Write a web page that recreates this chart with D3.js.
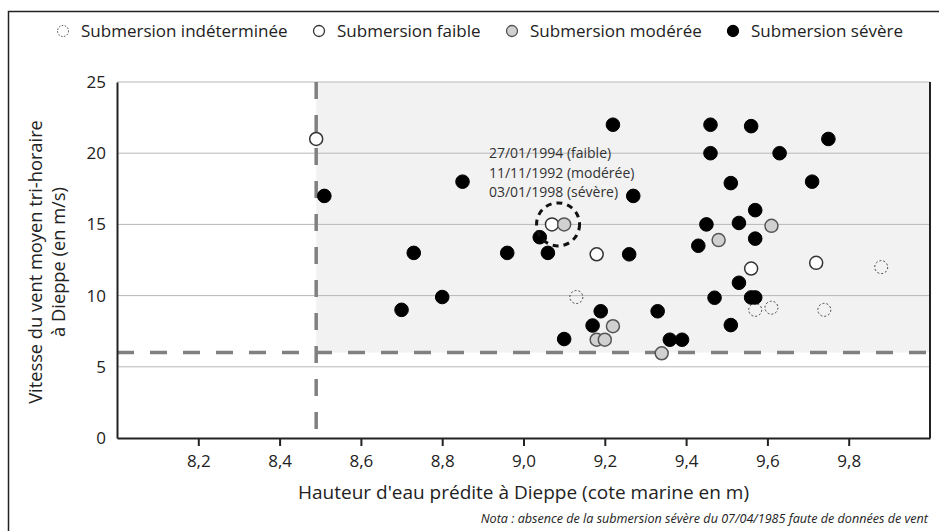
<!DOCTYPE html>
<html>
<head>
<meta charset="utf-8">
<script src="https://cdn.jsdelivr.net/npm/d3@7"></script>
<style>
  body { margin: 0; background: #fff; }
  svg { font-family: "Open Sans", sans-serif; }
</style>
</head>
<body>
<div id="chart"></div>
<script>
// Data: [hauteur d'eau (m), vitesse du vent (m/s)]
const categories = ["Submersion indéterminée", "Submersion faible", "Submersion modérée", "Submersion sévère"];

const indeterminee = [[9.13, 9.9], [9.57, 9.0], [9.61, 9.15], [9.74, 9.0], [9.88, 12]];

const faible = [[8.49, 21], [9.07, 15], [9.18, 12.9], [9.56, 11.9], [9.72, 12.3]];

const moderee = [[9.10, 15], [9.61, 14.9], [9.48, 13.9], [9.22, 7.85], [9.18, 6.9], [9.20, 6.9], [9.34, 5.95]];

const severe = [
  [8.51, 17], [8.85, 18], [8.73, 13], [8.96, 13], [9.04, 14.1], [9.06, 13],
  [9.22, 22], [9.46, 22], [9.56, 21.9], [9.75, 21], [9.46, 20], [9.63, 20],
  [9.51, 17.9], [9.71, 18], [9.27, 17], [9.57, 16], [9.45, 15], [9.53, 15.1],
  [9.57, 14], [9.43, 13.5], [9.26, 12.9], [8.70, 9.0], [8.80, 9.9], [9.10, 6.95],
  [9.19, 8.9], [9.17, 7.9], [9.33, 8.9], [9.36, 6.9], [9.39, 6.9], [9.47, 9.85],
  [9.53, 10.9], [9.56, 9.87], [9.57, 9.87], [9.51, 7.93]
];

const xTicks = [8.2, 8.4, 8.6, 8.8, 9.0, 9.2, 9.4, 9.6, 9.8];
const yTicks = [0, 5, 10, 15, 20, 25];

// Seuils (traits tiretés) et point annoté
const xThreshold = 8.49;
const yThreshold = 6;
const annotated = [9.085, 15];
const annotationLines = ["27/01/1994 (faible)", "11/11/1992 (modérée)", "03/01/1998 (sévère)"];

// Layout
const W = 939, H = 531;
const MARGIN = { LEFT: 117, TOP: 82, RIGHT: 9, BOTTOM: 93 };
const WIDTH = W - MARGIN.LEFT - MARGIN.RIGHT;
const HEIGHT = H - MARGIN.TOP - MARGIN.BOTTOM;

const root = d3.select("#chart").append("svg").attr("width", W).attr("height", H);

// outer frame (left + top, the rest runs off the picture)
root.append("path")
  .attr("d", `M8.5,${H} V11.5 H${W}`)
  .attr("fill", "none")
  .attr("stroke", "#222")
  .attr("stroke-width", 1.5);

const svg = root.append("g").attr("transform", `translate(${MARGIN.LEFT},${MARGIN.TOP})`);

const x = d3.scaleLinear().domain([8.0, 10.0]).range([0, WIDTH]);
const y = d3.scaleLinear().domain([0, 25]).range([HEIGHT, 0]);

const fmt = (d) => d3.format(".1f")(d).replace(".", ",");

// zone grisée (au-dessus des deux seuils)
svg.append("rect")
  .attr("x", x(xThreshold))
  .attr("y", y(25))
  .attr("width", x(10) - x(xThreshold))
  .attr("height", y(yThreshold) - y(25))
  .attr("fill", "#f2f2f2");

// horizontal grid lines
svg.append("g")
  .selectAll("line")
  .data(yTicks.filter((d) => d > 0))
  .join("line")
    .attr("x1", 0)
    .attr("x2", WIDTH)
    .attr("y1", (d) => y(d))
    .attr("y2", (d) => y(d))
    .attr("stroke", "#b8b8b8")
    .attr("stroke-width", 1);

// threshold dashed lines
svg.append("line")
  .attr("x1", x(xThreshold)).attr("x2", x(xThreshold))
  .attr("y1", y(25)).attr("y2", y(0))
  .attr("stroke", "#808080")
  .attr("stroke-width", 3.5)
  .attr("stroke-dasharray", "17,16");

svg.append("line")
  .attr("x1", 0).attr("x2", WIDTH)
  .attr("y1", y(yThreshold)).attr("y2", y(yThreshold))
  .attr("stroke", "#808080")
  .attr("stroke-width", 3.5)
  .attr("stroke-dasharray", "17,16");

// point styles for each category
const styles = [
  { fill: "none", stroke: "#444", width: 1, dash: "2,2", r: 6.5 },
  { fill: "#fff", stroke: "#333", width: 1.5, dash: null, r: 6.5 },
  { fill: "#d0d0d0", stroke: "#555", width: 1.5, dash: null, r: 6.5 },
  { fill: "#000", stroke: "#000", width: 1, dash: null, r: 6.8 }
];
const series = [indeterminee, faible, moderee, severe];

series.forEach((data, i) => {
  const s = styles[i];
  svg.append("g")
    .selectAll("circle")
    .data(data)
    .join("circle")
      .attr("cx", (d) => x(d[0]))
      .attr("cy", (d) => y(d[1]))
      .attr("r", s.r)
      .attr("fill", s.fill)
      .attr("stroke", s.stroke)
      .attr("stroke-width", s.width)
      .attr("stroke-dasharray", s.dash);
});

// annotation circle + text
svg.append("circle")
  .attr("cx", x(annotated[0]))
  .attr("cy", y(annotated[1]))
  .attr("r", 21.5)
  .attr("fill", "none")
  .attr("stroke", "#111")
  .attr("stroke-width", 3)
  .attr("stroke-dasharray", "6,5");

svg.append("text")
  .attr("x", x(8.915))
  .attr("y", y(annotated[1]) - 66)
  .attr("font-size", 14)
  .attr("fill", "#333")
  .selectAll("tspan")
  .data(annotationLines)
  .join("tspan")
    .attr("x", x(8.915))
    .attr("dy", (d, i) => (i === 0 ? 0 : 19.5))
    .text((d) => d);

// Axes
const xAxisCall = d3.axisBottom(x).tickValues(xTicks).tickFormat(fmt).tickSize(8).tickSizeOuter(0);
const xAxisGroup = svg.append("g").attr("transform", `translate(0,${HEIGHT})`).call(xAxisCall);
xAxisGroup.select(".domain").attr("stroke", "#222").attr("stroke-width", 2);
xAxisGroup.selectAll(".tick line").attr("stroke", "#222").attr("stroke-width", 2);
xAxisGroup.selectAll(".tick text").attr("font-size", 17).attr("fill", "#222").attr("dy", "1.05em")
  .attr("font-family", "Open Sans, sans-serif");

const yAxisCall = d3.axisLeft(y).tickValues(yTicks).tickSize(0).tickPadding(11);
const yAxisGroup = svg.append("g").call(yAxisCall);
yAxisGroup.select(".domain").attr("stroke", "#222").attr("stroke-width", 2);
yAxisGroup.selectAll(".tick text").attr("font-size", 17).attr("fill", "#222")
  .attr("font-family", "Open Sans, sans-serif");

// right border of the plot
svg.append("line")
  .attr("x1", WIDTH).attr("x2", WIDTH)
  .attr("y1", y(25)).attr("y2", y(0))
  .attr("stroke", "#222")
  .attr("stroke-width", 2);

// axis labels
svg.append("text")
  .attr("x", WIDTH / 2)
  .attr("y", HEIGHT + 61)
  .attr("text-anchor", "middle")
  .attr("font-size", 19)
  .attr("fill", "#222")
  .text("Hauteur d'eau prédite à Dieppe (cote marine en m)");

const yLabel = svg.append("text")
  .attr("transform", `translate(${-MARGIN.LEFT + 36},${HEIGHT / 2 + 2}) rotate(-90)`)
  .attr("text-anchor", "middle")
  .attr("font-size", 18.3)
  .attr("fill", "#222");
yLabel.append("tspan").attr("x", 0).attr("dy", "0.35em").text("Vitesse du vent moyen tri-horaire");
yLabel.append("tspan").attr("x", 0).attr("dy", 23).text("à Dieppe (en m/s)");

// note
root.append("text")
  .attr("x", 928)
  .attr("y", 523)
  .attr("text-anchor", "end")
  .attr("font-size", 12.6)
  .attr("font-style", "italic")
  .attr("fill", "#222")
  .text("Nota : absence de la submersion sévère du 07/04/1985 faute de données de vent");

// Legend (evenly spaced items)
const legendX = [63, 319, 512, 733];
const legend = root.append("g").attr("transform", "translate(0,31)");
categories.forEach((c, i) => {
  const s = styles[i];
  legend.append("circle")
    .attr("cx", legendX[i])
    .attr("cy", 0)
    .attr("r", 5.5)
    .attr("fill", s.fill)
    .attr("stroke", s.stroke)
    .attr("stroke-width", s.dash ? 1 : 1.3)
    .attr("stroke-dasharray", s.dash ? "1.5,1.5" : null);
  legend.append("text")
    .attr("x", legendX[i] + 18)
    .attr("y", 0)
    .attr("dy", "0.35em")
    .attr("font-size", 17)
    .attr("fill", "#222")
    .text(c);
});
</script>
</body>
</html>
